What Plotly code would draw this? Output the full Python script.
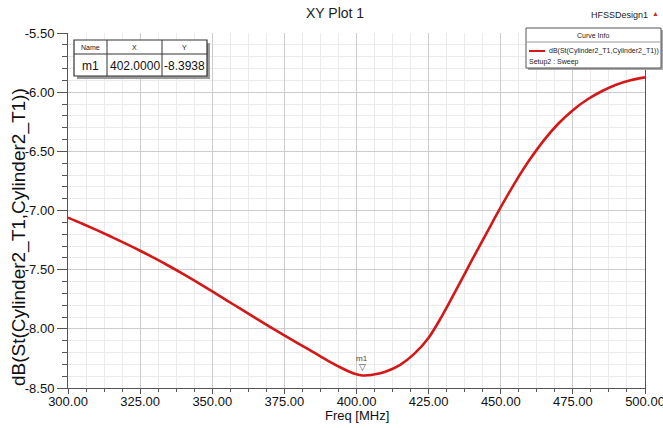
import plotly.graph_objects as go

# ---------------- data ----------------
freq = [300, 305, 310, 315, 320, 325, 330, 335, 340, 345, 350, 355, 360, 365, 370,
        375, 380, 385, 390, 395, 398, 400, 402, 404, 406, 410, 415, 420, 425, 430,
        435, 440, 445, 450, 455, 460, 465, 470, 475, 480, 485, 490, 495, 500]
db = [-7.060, -7.112, -7.166, -7.222, -7.280, -7.340, -7.403, -7.469, -7.538, -7.610,
      -7.684, -7.759, -7.834, -7.909, -7.983, -8.056, -8.127, -8.197, -8.268, -8.333,
      -8.367, -8.384, -8.3938, -8.392, -8.386, -8.362, -8.306, -8.212, -8.075, -7.875,
      -7.650, -7.420, -7.195, -6.972, -6.762, -6.572, -6.405, -6.265, -6.152, -6.062,
      -5.992, -5.937, -5.899, -5.875]
x_ticks = [300, 325, 350, 375, 400, 425, 450, 475, 500]
y_ticks = [-8.5, -8.0, -7.5, -7.0, -6.5, -6.0, -5.5]
marker_name = "m1"
marker_x = 402.0
marker_y = -8.3938
series_name = "dB(St(Cylinder2_T1,Cylinder2_T1))"
setup_name = "Setup2 : Sweep"
x_title = "Freq [MHz]"
plot_title = "XY Plot 1"
design_name = "HFSSDesign1"

W, H = 663, 428
L, R, T, B = 68, 645, 33, 388
RED = "#d41818"
SANS = "Liberation Sans, Arial, sans-serif"


def px(x):
    return (x - L) / (R - L)


def py(y):
    return (B - y) / (B - T)


def label(x, y, text, size, color="#222", xanchor="center", angle=0, family=SANS):
    return dict(x=px(x), y=py(y), xref="paper", yref="paper", text=text, showarrow=False,
                xanchor=xanchor, yanchor="middle", textangle=angle,
                font=dict(family=family, size=size, color=color))


fig = go.Figure()
fig.add_trace(go.Scatter(x=freq, y=db, mode="lines",
                         line=dict(color=RED, width=2.6, shape="spline", smoothing=1.0),
                         showlegend=False, hoverinfo="skip"))

shapes = []
ann = []

# marker on curve
ann.append(dict(x=marker_x, y=marker_y, xref="x", yref="y", text="▽", showarrow=False,
                xanchor="center", yanchor="bottom", yshift=1,
                font=dict(family=SANS, size=9, color="#444")))
ann.append(dict(x=marker_x, y=marker_y, xref="x", yref="y", text=marker_name, showarrow=False,
                xanchor="center", yanchor="bottom", yshift=10,
                font=dict(family=SANS, size=8, color="#444")))

# marker table (top-left)
tx0, tx1, ty0, ty1 = 74, 207, 40, 76
shapes.append(dict(type="rect", xref="paper", yref="paper", x0=px(tx0 + 3), x1=px(tx1 + 3),
                   y0=py(ty1 + 3), y1=py(ty0 + 3), fillcolor="#9a9a9a", line=dict(width=0), layer="above"))
shapes.append(dict(type="rect", xref="paper", yref="paper", x0=px(tx0), x1=px(tx1),
                   y0=py(ty1), y1=py(ty0), fillcolor="white", line=dict(color="#333", width=1.2), layer="above"))
for cx in (107, 162):
    shapes.append(dict(type="line", xref="paper", yref="paper", x0=px(cx), x1=px(cx),
                       y0=py(ty1), y1=py(ty0), line=dict(color="#333", width=1), layer="above"))
shapes.append(dict(type="line", xref="paper", yref="paper", x0=px(tx0), x1=px(tx1),
                   y0=py(54), y1=py(54), line=dict(color="#333", width=1), layer="above"))
for txt, cx in (("Name", 90.5), ("X", 134.5), ("Y", 184.5)):
    ann.append(label(cx, 47.5, txt, 7))
for txt, cx in ((marker_name, 90.5), (f"{marker_x:.4f}", 134.5), (f"{marker_y:.4f}", 184.5)):
    ann.append(label(cx, 65.5, txt, 12, "#111"))

# curve info box (top-right)
bx0, bx1, by0, by1 = 526, 661, 28, 68
shapes.append(dict(type="rect", xref="paper", yref="paper", x0=px(bx0 + 2), x1=px(bx1 + 2),
                   y0=py(by1 + 2), y1=py(by0 + 2), fillcolor="#a8a8a8", line=dict(width=0), layer="above"))
shapes.append(dict(type="rect", xref="paper", yref="paper", x0=px(bx0), x1=px(bx1),
                   y0=py(by1), y1=py(by0), fillcolor="white", line=dict(color="#555", width=1), layer="above"))
shapes.append(dict(type="line", xref="paper", yref="paper", x0=px(bx0), x1=px(bx1),
                   y0=py(42), y1=py(42), line=dict(color="#999", width=1), layer="above"))
shapes.append(dict(type="line", xref="paper", yref="paper", x0=px(529), x1=px(545),
                   y0=py(51), y1=py(51), line=dict(color=RED, width=2), layer="above"))
ann.append(label(593, 35, "Curve Info", 7))
ann.append(label(547, 51, series_name, 7, xanchor="left"))
ann.append(label(527, 61.5, setup_name, 7, xanchor="left"))

# title, design name, logo
ann.append(label(335, 13, plot_title, 14))
ann.append(label(619, 15, design_name, 9))
ann.append(label(655, 13, "▲", 7, "#c03020"))

# axis titles
ann.append(label(357, 416, x_title, 13, "#111"))
ann.append(label(19, 237, series_name, 19, "#111", angle=-90))

fig.update_layout(
    width=W, height=H, autosize=False,
    margin=dict(l=L, r=W - R, t=T, b=H - B, pad=0),
    paper_bgcolor="white", plot_bgcolor="white",
    shapes=shapes, annotations=ann,
    font=dict(family=SANS, size=13, color="#111"),
)
fig.update_xaxes(
    range=[300, 500], tickvals=x_ticks, ticktext=[f"{v:.2f}" for v in x_ticks],
    showgrid=True, gridcolor="#cccccc", gridwidth=1,
    showline=True, linecolor="#555", linewidth=1,
    ticks="outside", ticklen=5, tickcolor="#555",
    minor=dict(dtick=6.25, tick0=300, showgrid=True, gridcolor="#ebebeb",
               ticks="outside", ticklen=3, tickcolor="#555"),
    tickfont=dict(family=SANS, size=13, color="#111"),
    ticklabelstandoff=-4, ticklabeloverflow="allow",
    automargin=False, zeroline=False,
)
fig.update_yaxes(
    range=[-8.5, -5.5], tickvals=y_ticks, ticktext=[f"{v:.2f}" for v in y_ticks],
    showgrid=True, gridcolor="#cccccc", gridwidth=1,
    showline=True, linecolor="#555", linewidth=1, mirror=True,
    ticks="outside", ticklen=10, tickcolor="#555",
    minor=dict(dtick=0.1, tick0=-8.5, showgrid=True, gridcolor="#ebebeb",
               ticks="outside", ticklen=5, tickcolor="#555"),
    tickfont=dict(family=SANS, size=13, color="#111"),
    ticklabeloverflow="allow",
    automargin=False, zeroline=False,
)

fig.write_html("out.html")
